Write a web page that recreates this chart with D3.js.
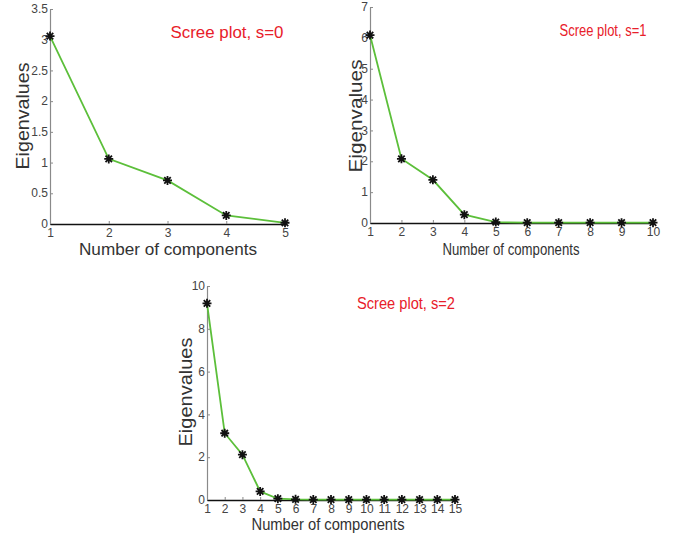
<!DOCTYPE html>
<html>
<head>
<meta charset="utf-8">
<script src="https://cdn.jsdelivr.net/npm/d3@7"></script>
<style>
    body { margin: 0; background: #fff; }
    svg { display: block; font-family: "Liberation Sans", Arial, Helvetica, sans-serif; }
    .tick text { font-family: "Liberation Sans Narrow", "Arial Narrow", "Liberation Sans", Arial, sans-serif; }
</style>
</head>
<body>
<svg id="chart" width="676" height="537"></svg>
<script>
// component numbers (x categories)
const components0 = [1, 2, 3, 4, 5];
const components1 = [1, 2, 3, 4, 5, 6, 7, 8, 9, 10];
const components2 = [1, 2, 3, 4, 5, 6, 7, 8, 9, 10, 11, 12, 13, 14, 15];

// eigenvalues per plot
const eigen0 = [3.06, 1.06, 0.71, 0.14, 0.02];
const eigen1 = [6.09, 2.08, 1.40, 0.27, 0.03, 0.01, 0.01, 0.01, 0.01, 0.01];
const eigen2 = [9.19, 3.12, 2.12, 0.40, 0.06, 0.03, 0.02, 0.02, 0.02, 0.02, 0.02, 0.02, 0.02, 0.02, 0.02];

// y tick labels
const yTicks0 = [0, 0.5, 1, 1.5, 2, 2.5, 3, 3.5];
const yTicks1 = [0, 1, 2, 3, 4, 5, 6, 7];
const yTicks2 = [0, 2, 4, 6, 8, 10];

const titles = ['Scree plot, s=0', 'Scree plot, s=1', 'Scree plot, s=2'];

const panels = [
    { x: components0, y: eigen0, ticks: yTicks0, title: titles[0],
      left: 50, right: 285, bottom: 224, top: 9,
      titlePos: [227, 32, 113], yLab: [22, 116, 107], xLab: [168, 249, 178] },
    { x: components1, y: eigen1, ticks: yTicks1, title: titles[1],
      left: 370, right: 653, bottom: 223, top: 7,
      titlePos: [603, 30, 87], yLab: [355, 116, 113], xLab: [511, 249, 137] },
    { x: components2, y: eigen2, ticks: yTicks2, title: titles[2],
      left: 207, right: 455, bottom: 500, top: 286,
      titlePos: [406, 303, 98], yLab: [185, 392, 109], xLab: [328, 524, 153] },
];

const svg = d3.select('#chart');

// 8-armed asterisk like the matlab '*' marker
const r = 4.5, rd = r * 0.72;
const asterisk = `M${-r},0H${r}M0,${-r}V${r}M${-rd},${-rd}L${rd},${rd}M${-rd},${rd}L${rd},${-rd}`;

panels.forEach(p => {
    const xScale = d3.scaleLinear().domain([p.x[0], p.x[p.x.length - 1]]).range([p.left, p.right]);
    const yScale = d3.scaleLinear().domain([0, p.ticks[p.ticks.length - 1]]).range([p.bottom, p.top]);

    const g = svg.append('g');

    const yAxis = g.append('g')
        .attr('transform', `translate(${p.left},0)`)
        .call(d3.axisLeft(yScale).tickValues(p.ticks).tickSizeInner(-3).tickSizeOuter(0).tickPadding(2).tickFormat(d3.format('')));
    yAxis.select('.domain').attr('stroke', '#8a8a8a').attr('stroke-width', 1.2);
    yAxis.selectAll('.tick line').attr('stroke', '#8a8a8a');
    yAxis.selectAll('.tick text').attr('font-size', 12).attr('fill', '#444').attr('dy', '0.3em');

    const xAxis = g.append('g')
        .attr('transform', `translate(0,${p.bottom})`)
        .call(d3.axisBottom(xScale).tickValues(p.x).tickSizeInner(-3).tickSizeOuter(0).tickPadding(4).tickFormat(d3.format('d')));
    xAxis.select('.domain').attr('stroke', '#111').attr('stroke-width', 1.4);
    xAxis.selectAll('.tick line').attr('stroke', '#8a8a8a');
    xAxis.selectAll('.tick text').attr('font-size', 12).attr('fill', '#444');

    const line = d3.line().x((d, i) => xScale(p.x[i])).y(d => yScale(d));

    g.append('path')
        .attr('d', line(p.y))
        .attr('fill', 'none')
        .attr('stroke', '#5cbf3a')
        .attr('stroke-width', 1.8);

    g.selectAll('path.marker')
        .data(p.y)
        .enter()
        .append('path')
        .attr('class', 'marker')
        .attr('d', asterisk)
        .attr('transform', (d, i) => `translate(${xScale(p.x[i])},${yScale(d)})`)
        .attr('stroke', '#111')
        .attr('stroke-width', 1.8)
        .attr('fill', 'none');

    g.append('text')
        .text(p.title)
        .attr('x', p.titlePos[0])
        .attr('y', p.titlePos[1])
        .attr('dy', '0.35em')
        .attr('text-anchor', 'middle')
        .attr('font-size', 16)
        .attr('textLength', p.titlePos[2])
        .attr('lengthAdjust', 'spacingAndGlyphs')
        .attr('fill', '#e8202a');

    g.append('text')
        .text('Eigenvalues')
        .attr('transform', `translate(${p.yLab[0]},${p.yLab[1]}) rotate(-90)`)
        .attr('dy', '0.35em')
        .attr('text-anchor', 'middle')
        .attr('font-size', 19)
        .attr('textLength', p.yLab[2])
        .attr('lengthAdjust', 'spacingAndGlyphs')
        .attr('fill', '#333');

    g.append('text')
        .text('Number of components')
        .attr('x', p.xLab[0])
        .attr('y', p.xLab[1])
        .attr('dy', '0.35em')
        .attr('text-anchor', 'middle')
        .attr('font-size', 17)
        .attr('textLength', p.xLab[2])
        .attr('lengthAdjust', 'spacingAndGlyphs')
        .attr('fill', '#333');
});
</script>
</body>
</html>
